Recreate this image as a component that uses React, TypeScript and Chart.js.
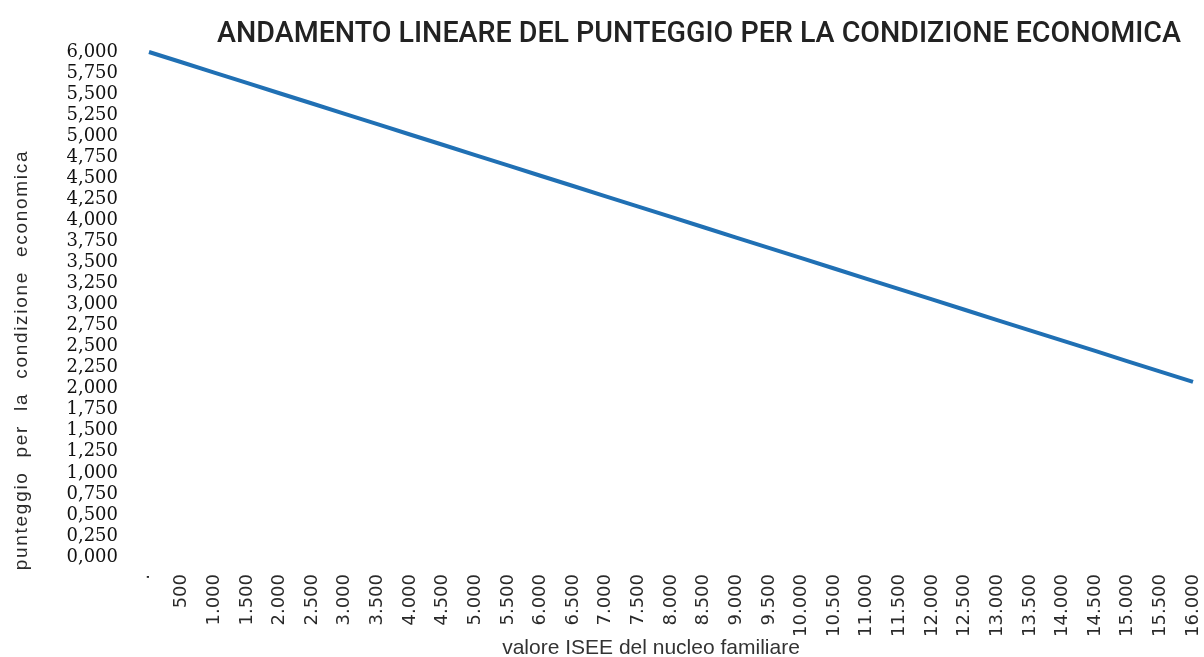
import React, { useEffect, useRef } from "react";
import { Chart, registerables } from "chart.js";

Chart.register(...registerables);

const chartTitle = "ANDAMENTO LINEARE DEL PUNTEGGIO PER LA CONDIZIONE ECONOMICA";
const xAxisTitle = "valore ISEE del nucleo familiare";
const yAxisTitle = "punteggio  per  la  condizione  economica";

const iseeLabels = [
  "·", "500", "1.000", "1.500", "2.000", "2.500", "3.000", "3.500", "4.000",
  "4.500", "5.000", "5.500", "6.000", "6.500", "7.000", "7.500", "8.000",
  "8.500", "9.000", "9.500", "10.000", "10.500", "11.000", "11.500", "12.000",
  "12.500", "13.000", "13.500", "14.000", "14.500", "15.000", "15.500", "16.000",
];

const scores = [
  6.0, 5.878, 5.755, 5.633, 5.51, 5.388, 5.265, 5.143, 5.02,
  4.898, 4.775, 4.653, 4.53, 4.408, 4.285, 4.163, 4.04,
  3.918, 3.795, 3.673, 3.55, 3.428, 3.305, 3.183, 3.06,
  2.938, 2.815, 2.693, 2.57, 2.448, 2.325, 2.203, 2.08,
];

const yMin = 0;
const yMax = 6;
const yStep = 0.25;

const titlesPlugin = {
  id: "customTitles",
  afterDraw(chart: any) {
    const ctx = chart.ctx as CanvasRenderingContext2D;
    ctx.save();
    ctx.fillStyle = "#222";
    ctx.font = "500 28.6px Roboto, 'Liberation Sans', sans-serif";
    ctx.textAlign = "center";
    ctx.textBaseline = "alphabetic";
    ctx.fillText(chartTitle, 699, 42);
    ctx.fillStyle = "#333";
    ctx.font = "21px 'Liberation Sans', Arial, sans-serif";
    ctx.fillText(xAxisTitle, 651, 654);
    ctx.translate(22, 360);
    ctx.rotate(-Math.PI / 2);
    ctx.fillStyle = "#2a2a2a";
    ctx.font = "19px 'Liberation Sans', Arial, sans-serif";
    (ctx as any).letterSpacing = "1.7px";
    ctx.textBaseline = "middle";
    ctx.fillText(yAxisTitle, 0, 0);
    ctx.restore();
  },
};

export default function App() {
  const canvasRef = useRef<HTMLCanvasElement | null>(null);

  useEffect(() => {
    const canvas = canvasRef.current;
    if (!canvas) return;
    const chart = new Chart(canvas, {
      type: "line",
      data: {
        labels: iseeLabels,
        datasets: [
          {
            data: scores,
            borderColor: "#2070b4",
            borderWidth: 4,
            pointRadius: 0,
            tension: 0,
            fill: false,
            clip: false as any,
          },
        ],
      },
      options: {
        animation: false,
        responsive: false,
        devicePixelRatio: 1,
        layout: { padding: { top: 52, right: 11, left: 0, bottom: 0 } },
        plugins: {
          legend: { display: false },
          tooltip: { enabled: false },
          title: { display: false },
        },
        scales: {
          x: {
            type: "category",
            offset: false,
            grid: { display: false, drawTicks: false },
            border: { display: false },
            ticks: {
              autoSkip: false,
              maxRotation: 90,
              minRotation: 90,
              padding: 17,
              color: "#2a2a2a",
              font: { family: "'DejaVu Sans', sans-serif", size: 18 },
            },
            afterFit: (s: any) => {
              s.height = 100;
              s.paddingLeft = 0;
              s.paddingRight = 0;
            },
          },
          y: {
            min: yMin,
            max: yMax,
            grid: { display: false, drawTicks: false },
            border: { display: false },
            ticks: {
              stepSize: yStep,
              autoSkip: false,
              padding: 31,
              color: "#111",
              font: { family: "'DejaVu Serif', serif", size: 18 },
              callback: (v: any) => Number(v).toFixed(3).replace(".", ","),
            },
            afterFit: (s: any) => {
              s.width = 149;
              s.paddingTop = 0;
              s.paddingBottom = 0;
            },
          },
        },
      },
      plugins: [titlesPlugin],
    });
    return () => chart.destroy();
  }, []);

  return (
    <div style={{ position: "fixed", left: 0, top: 0, width: 1204, height: 657, background: "#fff" }}>
      <canvas ref={canvasRef} width={1204} height={657} style={{ display: "block" }} />
    </div>
  );
}
